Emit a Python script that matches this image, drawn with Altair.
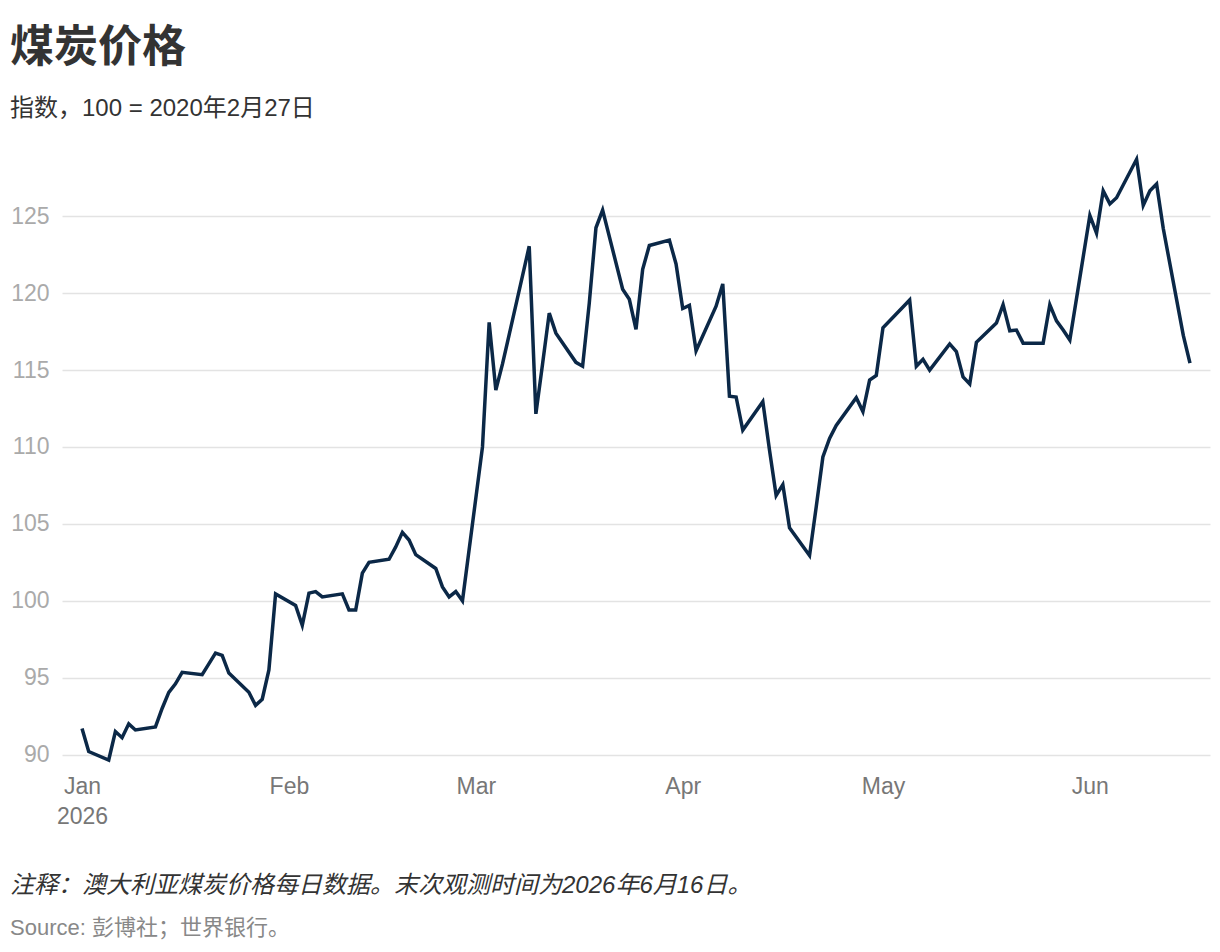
import altair as alt
import pandas as pd

dates = [
    "2026-01-01", "2026-01-02", "2026-01-05", "2026-01-06", "2026-01-07", "2026-01-08", "2026-01-09",
    "2026-01-12", "2026-01-13", "2026-01-14", "2026-01-15", "2026-01-16", "2026-01-19", "2026-01-20",
    "2026-01-21", "2026-01-22", "2026-01-23", "2026-01-26", "2026-01-27", "2026-01-28", "2026-01-29",
    "2026-01-30",
    "2026-02-02", "2026-02-03", "2026-02-04", "2026-02-05", "2026-02-06", "2026-02-09", "2026-02-10",
    "2026-02-11", "2026-02-12", "2026-02-13", "2026-02-16", "2026-02-17", "2026-02-18", "2026-02-19",
    "2026-02-20", "2026-02-23", "2026-02-24", "2026-02-25", "2026-02-26", "2026-02-27",
    "2026-03-02", "2026-03-03", "2026-03-04", "2026-03-05", "2026-03-06", "2026-03-09", "2026-03-10",
    "2026-03-11", "2026-03-12", "2026-03-13", "2026-03-16", "2026-03-17", "2026-03-18", "2026-03-19",
    "2026-03-20", "2026-03-23", "2026-03-24", "2026-03-25", "2026-03-26", "2026-03-27", "2026-03-30",
    "2026-03-31",
    "2026-04-01", "2026-04-02", "2026-04-03", "2026-04-06", "2026-04-07", "2026-04-08", "2026-04-09",
    "2026-04-10", "2026-04-13", "2026-04-14", "2026-04-15", "2026-04-16", "2026-04-17", "2026-04-20",
    "2026-04-21", "2026-04-22", "2026-04-23", "2026-04-24", "2026-04-27", "2026-04-28", "2026-04-29",
    "2026-04-30",
    "2026-05-01", "2026-05-04", "2026-05-05", "2026-05-06", "2026-05-07", "2026-05-08", "2026-05-11",
    "2026-05-12", "2026-05-13", "2026-05-14", "2026-05-15", "2026-05-18", "2026-05-19", "2026-05-20",
    "2026-05-21", "2026-05-22", "2026-05-25", "2026-05-26", "2026-05-27", "2026-05-28", "2026-05-29",
    "2026-06-01", "2026-06-02", "2026-06-03", "2026-06-04", "2026-06-05", "2026-06-08", "2026-06-09",
    "2026-06-10", "2026-06-11", "2026-06-12", "2026-06-15", "2026-06-16",
]
index_values = [
    91.7, 90.2, 89.65, 91.5, 91.1, 92.0, 91.6,
    91.8, 93.0, 94.05, 94.6, 95.35, 95.2, 95.9,
    96.6, 96.45, 95.3, 94.05, 93.2, 93.6, 95.5,
    100.45,
    99.7, 98.4, 100.5, 100.6, 100.25, 100.45, 99.4,
    99.4, 101.8, 102.5, 102.7, 103.5, 104.45, 103.95,
    103.0, 102.1, 100.9, 100.25, 100.6, 100.0,
    110.0, 118.1, 113.7, 115.4, 117.3, 123.05, 112.15,
    115.4, 118.7, 117.4, 115.5, 115.25, 119.35, 124.25,
    125.4, 120.25, 119.6, 117.65, 121.55, 123.1, 123.45,
    121.9,
    119.0, 119.2, 116.25, 119.15, 120.6, 113.3, 113.25,
    111.1, 112.95, 109.8, 106.85, 107.55, 104.75, 102.95,
    106.1, 109.35, 110.55, 111.4, 113.2, 112.3, 114.35,
    114.65,
    117.75, 119.1, 119.55, 115.25, 115.7, 115.0, 116.7,
    116.2, 114.55, 114.1, 116.8, 118.05, 119.25, 117.55,
    117.6, 116.75, 116.75, 119.25, 118.2, 117.6, 116.95,
    125.05, 123.9, 126.65, 125.8, 126.2, 128.7, 125.7,
    126.65, 127.1, 124.2, 117.25, 115.45,
]

y_ticks = [90, 95, 100, 105, 110, 115, 120, 125]
tick_months = [1, 2, 3, 4, 5, 6]

title_text = "煤炭价格"
subtitle_text = "指数，100 = 2020年2月27日"
note_text = "注释：澳大利亚煤炭价格每日数据。末次观测时间为2026年6月16日。"
source_text = "Source: 彭博社；世界银行。"

FONT = "Liberation Sans, Noto Sans CJK SC"

df = pd.DataFrame({"date": pd.to_datetime(dates), "value": index_values})

plot_w, plot_h = 1148, 623

line = alt.Chart(df).mark_line(color="#0b2847", strokeWidth=3.5).encode(
    x=alt.X("date:T",
            scale=alt.Scale(domain=[alt.DateTime(year=2025, month=12, date=29),
                                    alt.DateTime(year=2026, month=6, date=19)]),
            axis=alt.Axis(values=[alt.DateTime(year=2026, month=m, date=1) for m in tick_months],
                          labelExpr="month(datum.value) == 0 ? [timeFormat(datum.value, '%b'), timeFormat(datum.value, '%Y')] : timeFormat(datum.value, '%b')",
                          labelFontSize=23, labelColor="#777", labelFont=FONT,
                          labelPadding=5, labelLineHeight=30, labelFlush=False,
                          grid=False, domain=False, ticks=False, title=None)),
    y=alt.Y("value:Q",
            scale=alt.Scale(domain=[89, 129.5], nice=False, zero=False),
            axis=alt.Axis(values=y_ticks, labelFontSize=23, labelColor="#aaa", labelFont=FONT,
                          labelPadding=13, tickSize=0, domain=False, ticks=False,
                          gridColor="#e3e3e3", gridWidth=1.5, title=None)),
)

note = alt.Chart(pd.DataFrame({"t": [note_text]})).mark_text(
    align="left", baseline="middle", fontSize=24, fontStyle="italic", color="#333", font=FONT
).encode(text="t:N", x=alt.value(-52), y=alt.value(739))

source = alt.Chart(pd.DataFrame({"t": [source_text]})).mark_text(
    align="left", baseline="middle", fontSize=22, color="#888", font=FONT
).encode(text="t:N", x=alt.value(-52), y=alt.value(781))

chart = alt.layer(line, note, source).properties(
    width=plot_w,
    height=plot_h,
    autosize="none",
    padding={"left": 54, "top": 139, "right": 2, "bottom": 176},
    title=alt.TitleParams(
        text=title_text, subtitle=subtitle_text, anchor="start", frame="group", dx=-52,
        fontSize=44, fontWeight="bold", color="#333", font=FONT,
        subtitleFontSize=24, subtitleColor="#333", subtitleFont=FONT,
        subtitlePadding=26, offset=26,
    ),
).configure_view(stroke=None)

chart.save("out.html", embed_options={"renderer": "svg", "actions": False})
